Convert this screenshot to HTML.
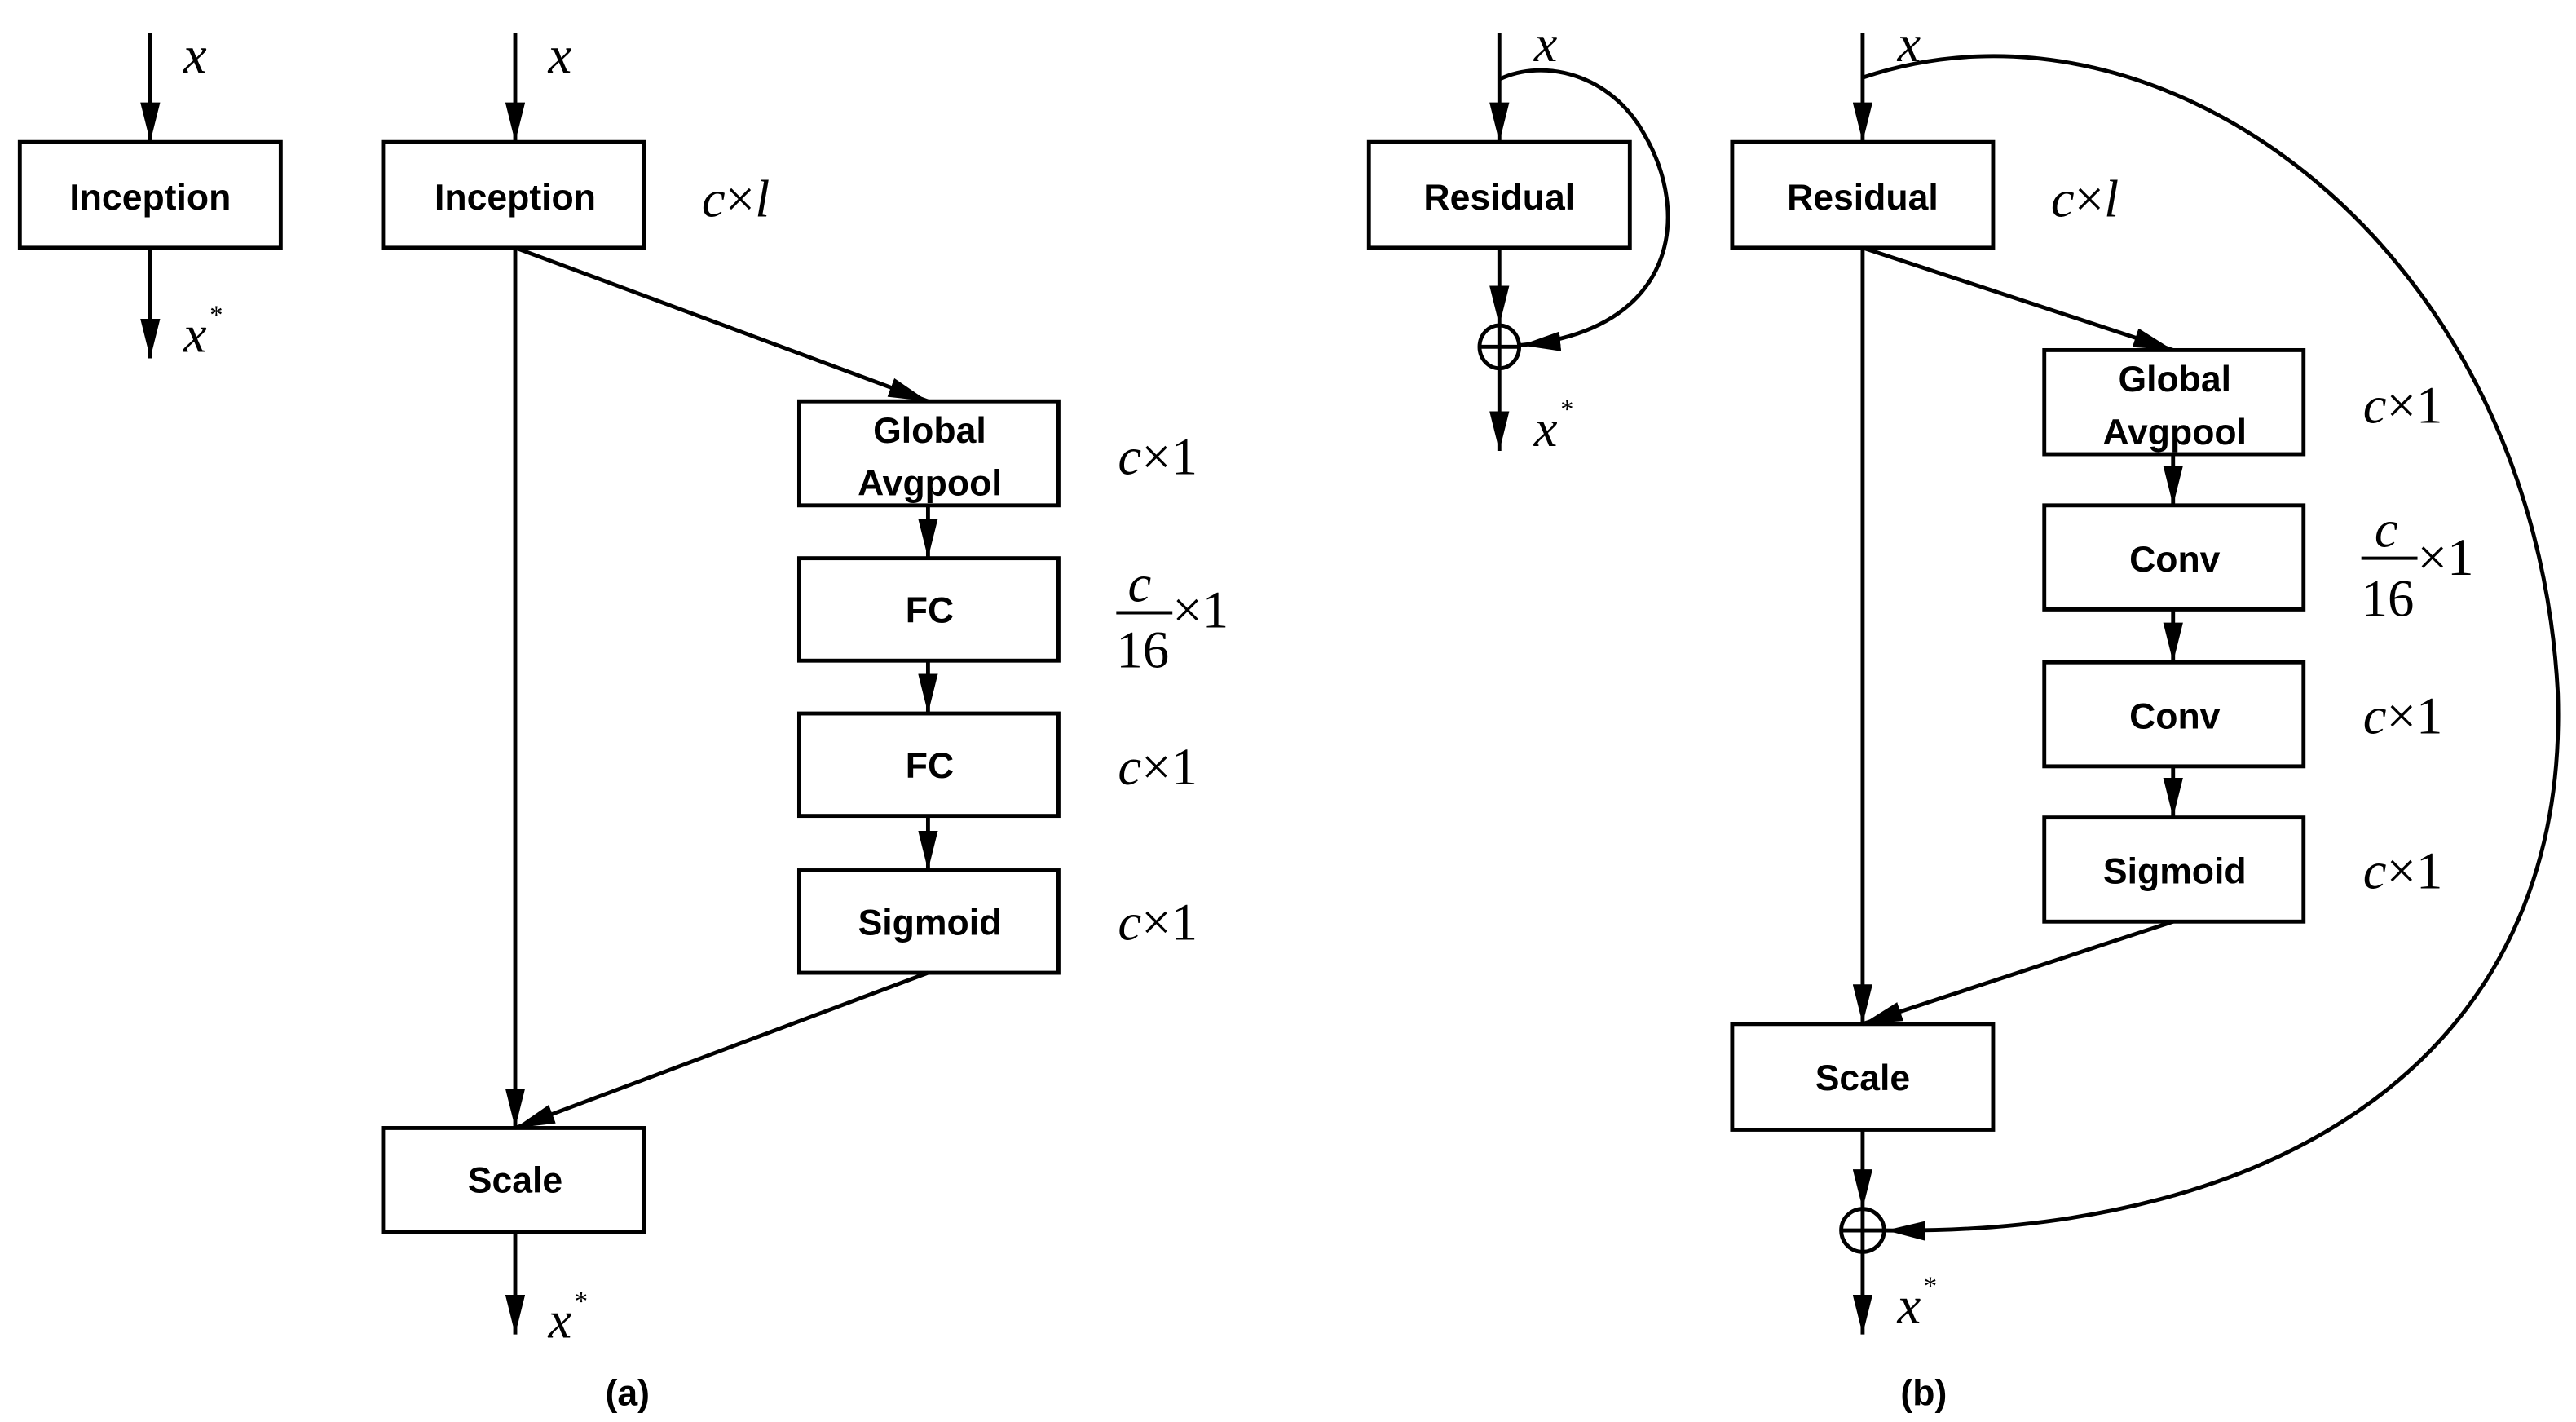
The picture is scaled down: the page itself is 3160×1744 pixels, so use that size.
<!DOCTYPE html>
<html><head><meta charset="utf-8"><style>
html,body{margin:0;padding:0;background:#fff;}
svg{display:block;}
.b{font-family:"Liberation Sans",sans-serif;font-weight:bold;font-size:22px;text-anchor:middle;}
.m{font-family:"Liberation Serif",serif;font-size:32px;}
.i{font-style:italic;}
</style></head><body>
<svg width="3160" height="1744" viewBox="0 0 1560 861" preserveAspectRatio="none" xmlns="http://www.w3.org/2000/svg">
<defs>
<marker id="a" viewBox="0 0 24 12" refX="24" refY="6" markerWidth="24" markerHeight="12" markerUnits="userSpaceOnUse" orient="auto">
<path d="M0,0 L24,6 L0,12 Z" fill="#000"/>
</marker>
</defs>
<g stroke="#000" stroke-width="2.4" fill="none">
<line x1="91" y1="20" x2="91" y2="86" marker-end="url(#a)"/>
<rect x="12" y="86" width="158" height="64"/>
<line x1="91" y1="150" x2="91" y2="217" marker-end="url(#a)"/>
<line x1="312" y1="20" x2="312" y2="86" marker-end="url(#a)"/>
<rect x="232" y="86" width="158" height="64"/>
<line x1="312" y1="150" x2="312" y2="683" marker-end="url(#a)"/>
<line x1="312" y1="150" x2="562" y2="243" marker-end="url(#a)"/>
<rect x="484" y="243" width="157" height="63"/>
<line x1="562" y1="306" x2="562" y2="338" marker-end="url(#a)"/>
<rect x="484" y="338" width="157" height="62"/>
<line x1="562" y1="400" x2="562" y2="432" marker-end="url(#a)"/>
<rect x="484" y="432" width="157" height="62"/>
<line x1="562" y1="494" x2="562" y2="527" marker-end="url(#a)"/>
<rect x="484" y="527" width="157" height="62"/>
<line x1="562" y1="589" x2="312" y2="683" marker-end="url(#a)"/>
<rect x="232" y="683" width="158" height="63"/>
<line x1="312" y1="746" x2="312" y2="808" marker-end="url(#a)"/>
<line x1="908" y1="20" x2="908" y2="86" marker-end="url(#a)"/>
<rect x="829" y="86" width="158" height="64"/>
<line x1="908" y1="150" x2="908" y2="197" marker-end="url(#a)"/>
<ellipse cx="908" cy="210" rx="12" ry="13"/>
<line x1="897" y1="210" x2="919" y2="210"/>
<line x1="908" y1="198" x2="908" y2="222"/>
<line x1="908" y1="223" x2="908" y2="273" marker-end="url(#a)"/>
<path d="M908,48 C935,35 975,45 995,80 C1025,130 1015,200 921,209" marker-end="url(#a)"/>
<line x1="1128" y1="20" x2="1128" y2="86" marker-end="url(#a)"/>
<rect x="1049" y="86" width="158" height="64"/>
<line x1="1128" y1="150" x2="1128" y2="620" marker-end="url(#a)"/>
<line x1="1128" y1="150" x2="1316" y2="212" marker-end="url(#a)"/>
<rect x="1238" y="212" width="157" height="63"/>
<line x1="1316" y1="275" x2="1316" y2="306" marker-end="url(#a)"/>
<rect x="1238" y="306" width="157" height="63"/>
<line x1="1316" y1="369" x2="1316" y2="401" marker-end="url(#a)"/>
<rect x="1238" y="401" width="157" height="63"/>
<line x1="1316" y1="464" x2="1316" y2="495" marker-end="url(#a)"/>
<rect x="1238" y="495" width="157" height="63"/>
<line x1="1316" y1="558" x2="1128" y2="620" marker-end="url(#a)"/>
<rect x="1049" y="620" width="158" height="64"/>
<line x1="1128" y1="684" x2="1128" y2="732" marker-end="url(#a)"/>
<ellipse cx="1128" cy="745" rx="13" ry="13"/>
<line x1="1116" y1="745" x2="1140" y2="745"/>
<line x1="1128" y1="733" x2="1128" y2="757"/>
<line x1="1128" y1="758" x2="1128" y2="808" marker-end="url(#a)"/>
<path d="M1128,47 C1310,-15 1535,150 1549,420 C1556,640 1380,748 1142,745" marker-end="url(#a)"/>
</g>
<g>
<text class="b" x="91" y="127">Inception</text>
<text class="b" x="312" y="127">Inception</text>
<text class="b" x="563" y="268">Global</text>
<text class="b" x="563" y="300">Avgpool</text>
<text class="b" x="563" y="377">FC</text>
<text class="b" x="563" y="471">FC</text>
<text class="b" x="563" y="566">Sigmoid</text>
<text class="b" x="312" y="722">Scale</text>
<text class="b" x="908" y="127">Residual</text>
<text class="b" x="1128" y="127">Residual</text>
<text class="b" x="1317" y="237">Global</text>
<text class="b" x="1317" y="269">Avgpool</text>
<text class="b" x="1317" y="346">Conv</text>
<text class="b" x="1317" y="441">Conv</text>
<text class="b" x="1317" y="535">Sigmoid</text>
<text class="b" x="1128" y="660">Scale</text>
<text class="b" x="380" y="851" font-size="24">(a)</text>
<text class="b" x="1165" y="851" font-size="24">(b)</text>
</g>
<g class="m">
<text class="i" x="111" y="44">x</text>
<text class="i" x="111" y="213">x</text><text x="127" y="196" font-size="16">*</text>
<text class="i" x="332" y="44">x</text>
<text class="i" x="332" y="810">x</text><text x="348" y="793" font-size="16">*</text>
<text x="425" y="131"><tspan class="i">c</tspan>×<tspan class="i">l</tspan></text>
<text x="677" y="287"><tspan class="i">c</tspan>×1</text>
<text class="i" x="683" y="364">c</text>
<line x1="676" y1="371" x2="710" y2="371" stroke="#000" stroke-width="2"/>
<text x="676" y="404">16</text>
<text x="710" y="380">×1</text>
<text x="677" y="475"><tspan class="i">c</tspan>×1</text>
<text x="677" y="569"><tspan class="i">c</tspan>×1</text>
<text class="i" x="929" y="37">x</text>
<text class="i" x="929" y="270">x</text><text x="945" y="253" font-size="16">*</text>
<text class="i" x="1149" y="37">x</text>
<text class="i" x="1149" y="801">x</text><text x="1165" y="784" font-size="16">*</text>
<text x="1242" y="131"><tspan class="i">c</tspan>×<tspan class="i">l</tspan></text>
<text x="1431" y="256"><tspan class="i">c</tspan>×1</text>
<text class="i" x="1438" y="331">c</text>
<line x1="1430" y1="338" x2="1464" y2="338" stroke="#000" stroke-width="2"/>
<text x="1430" y="373">16</text>
<text x="1464" y="348">×1</text>
<text x="1431" y="444"><tspan class="i">c</tspan>×1</text>
<text x="1431" y="538"><tspan class="i">c</tspan>×1</text>
</g>
</svg>
</body></html>
